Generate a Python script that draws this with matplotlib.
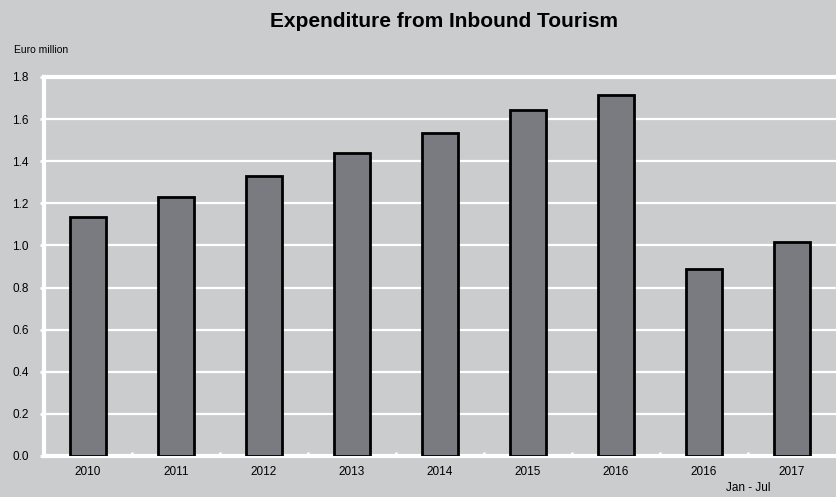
import numpy as np
import matplotlib.pyplot as plt

plt.rcParams['font.family'] = ['Liberation Sans', 'DejaVu Sans']

# Expenditure values (Euro million)
years = ["2010", "2011", "2012", "2013", "2014", "2015", "2016", "2016", "2017"]
values = [1.135, 1.228, 1.330, 1.440, 1.535, 1.642, 1.714, 0.888, 1.014]
yticks = [0.0, 0.2, 0.4, 0.6, 0.8, 1.0, 1.2, 1.4, 1.6, 1.8]

bg = "#cbccce"
bar_color = "#7a7b80"

fig = plt.figure(figsize=(8.36, 4.97), dpi=100, facecolor=bg)
ax = fig.add_axes([44 / 836, 1 - 456 / 497, 792 / 836, 379 / 497])
ax.set_facecolor(bg)

x = np.arange(len(years))
ax.bar(x, values, width=0.42, color=bar_color, edgecolor="black", linewidth=2, zorder=3)

ax.set_xlim(-0.5, len(years) - 0.5)
ax.set_ylim(0, 1.8)
ax.set_yticks(yticks)
ax.set_yticklabels([f"{t:.1f}" for t in yticks], fontsize=8.5)
ax.yaxis.grid(True, color="white", linewidth=1.6, zorder=1)

# category labels sit at bar centres; white ticks mark the boundaries
ax.set_xticks(x)
ax.set_xticklabels(years, fontsize=8.5)
ax.tick_params(axis="x", length=0, pad=7)
ax.set_xticks(np.arange(0.5, len(years) - 1, 1), minor=True)
ax.tick_params(axis="x", which="minor", direction="in", length=3, width=2, color="white")
ax.tick_params(axis="y", length=3, width=2, color="white", pad=8)

ax.spines["right"].set_visible(False)
for side in ["left", "bottom", "top"]:
    ax.spines[side].set_color("white")
    ax.spines[side].set_linewidth(3)

fig.text(0.531, 0.956, "Expenditure from Inbound Tourism", ha="center", va="center",
         fontsize=15, fontweight="bold")
fig.text(14 / 836, 1 - 50 / 497, "Euro million", ha="left", va="center", fontsize=7.5)
ax.text(7.5, -0.125, "Jan - Jul", ha="center", va="top", fontsize=8.5)

fig.savefig("out.png", dpi=100, facecolor=bg)
